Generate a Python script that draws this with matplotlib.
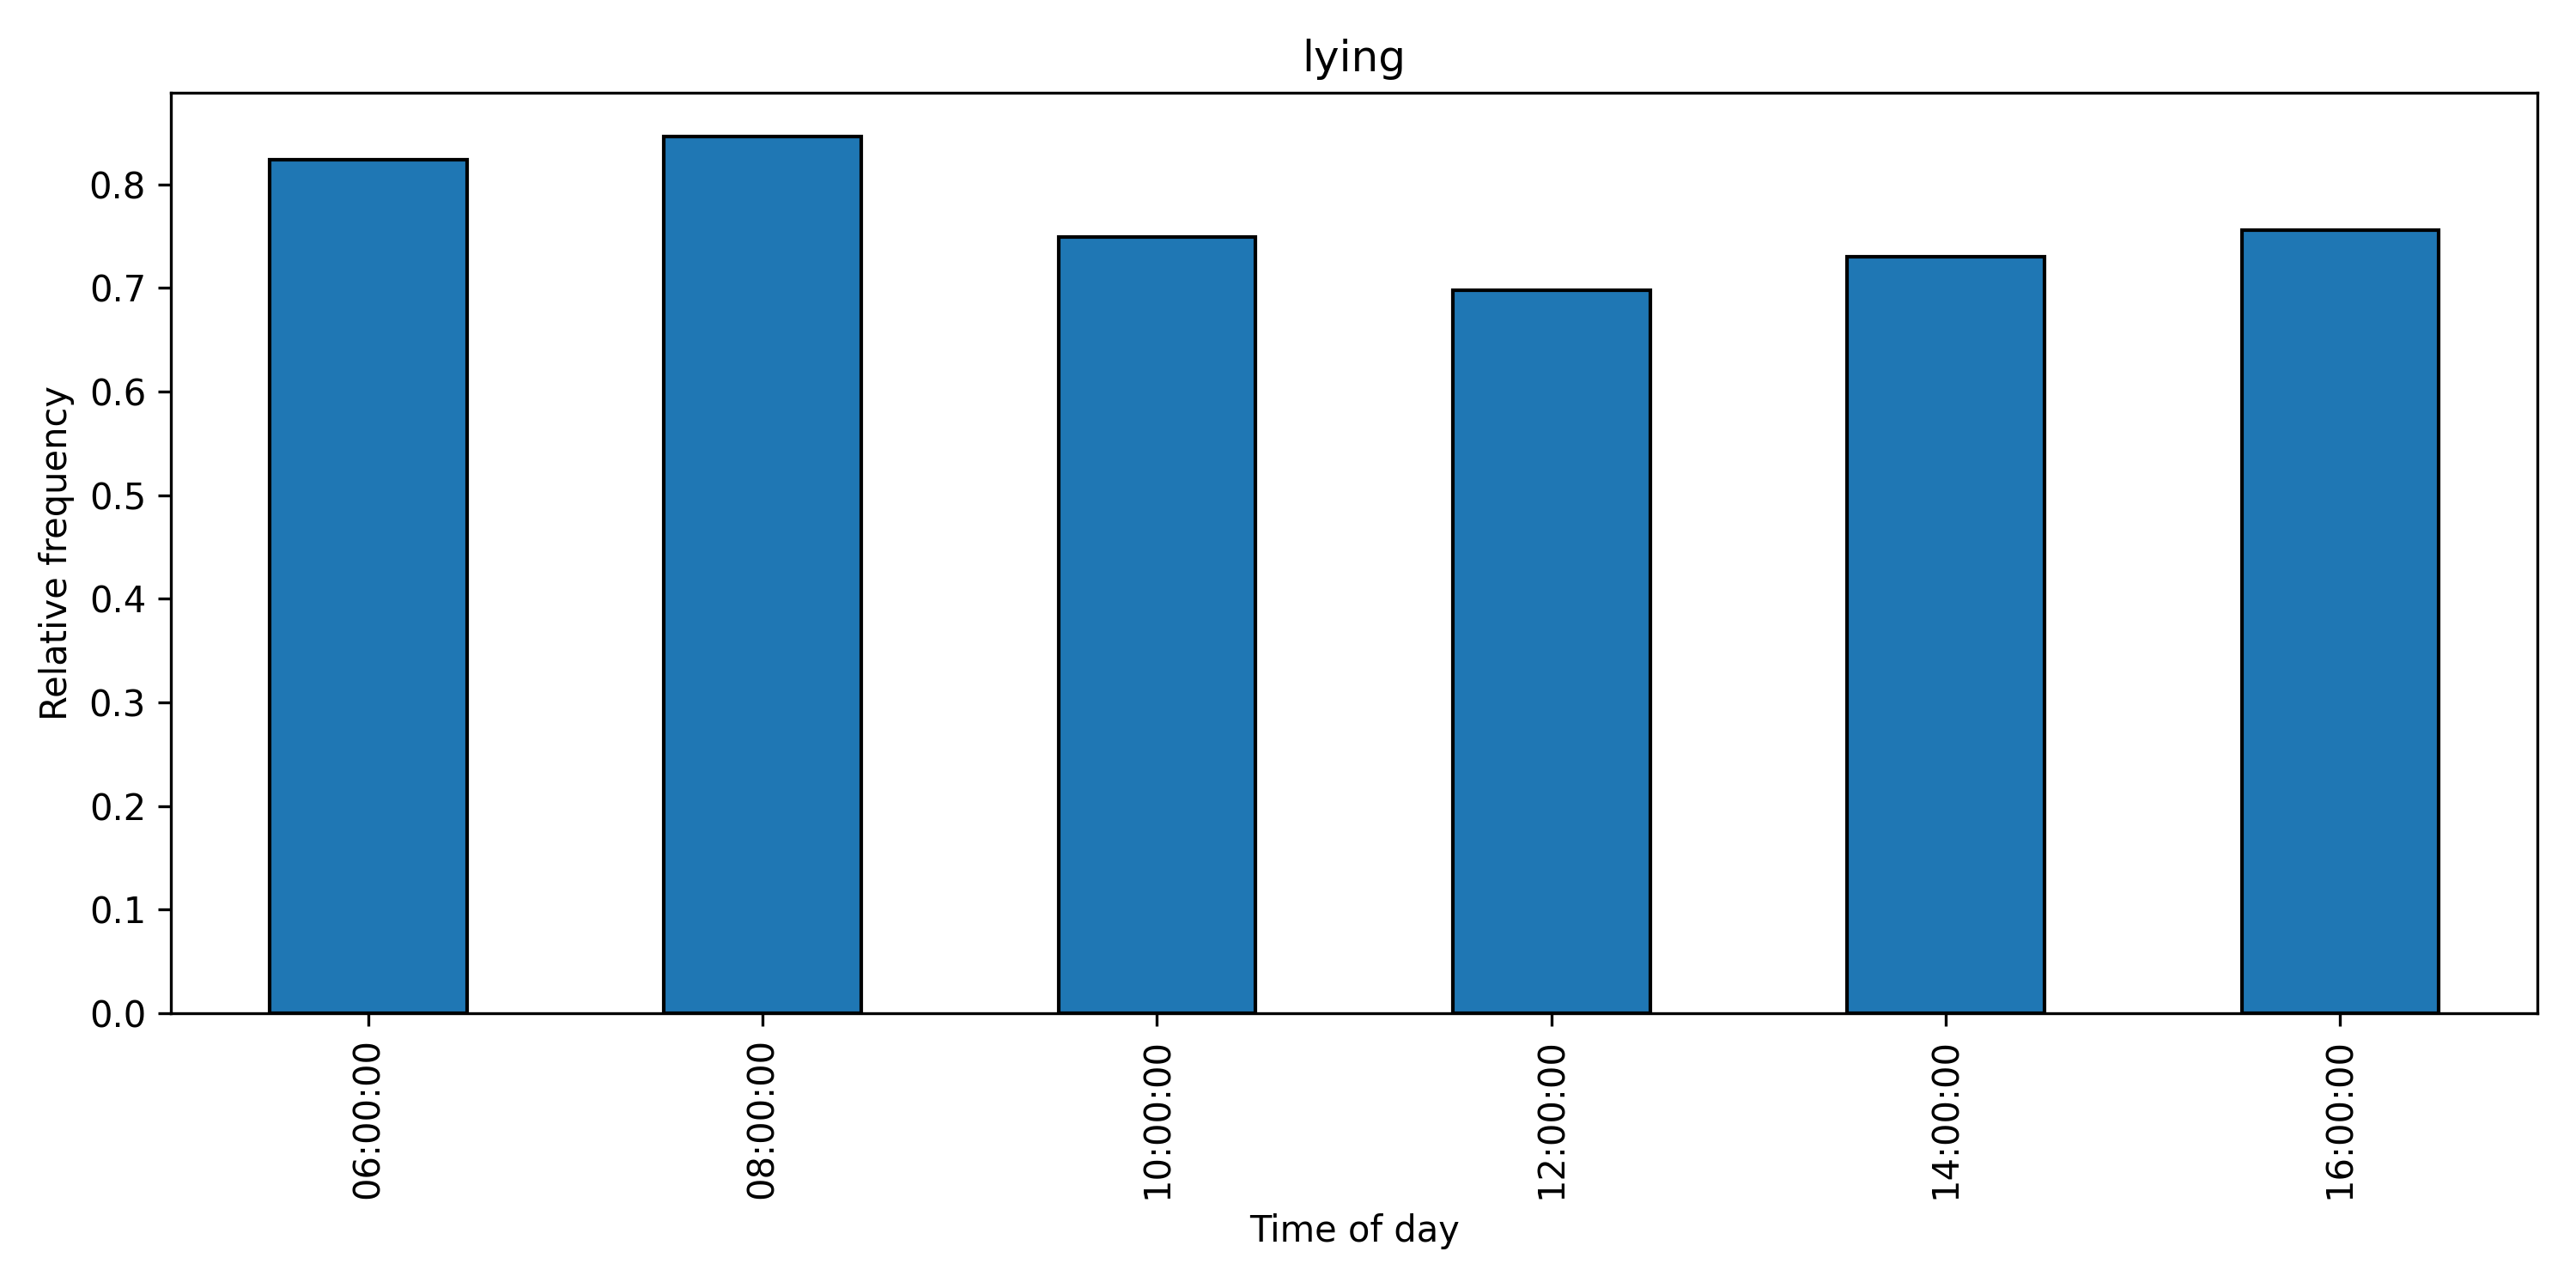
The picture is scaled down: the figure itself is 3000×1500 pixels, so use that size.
import matplotlib
matplotlib.use("Agg")
import matplotlib.pyplot as plt
import numpy as np

categories = ["06:00:00", "08:00:00", "10:00:00", "12:00:00", "14:00:00", "16:00:00"]
values = [0.824, 0.846, 0.749, 0.6975, 0.730, 0.7555]

fig, ax = plt.subplots(figsize=(10, 5), dpi=300)
x = np.arange(len(categories))
ax.bar(x, values, width=0.5, color="#1f77b4", edgecolor="black")
ax.set_xticks(x)
ax.set_xticklabels(categories, rotation=90)
ax.set_xlim(-0.5, len(categories) - 0.5)
ax.set_title("lying")
ax.set_xlabel("Time of day")
ax.set_ylabel("Relative frequency")
fig.tight_layout()
fig.savefig("out.png")
